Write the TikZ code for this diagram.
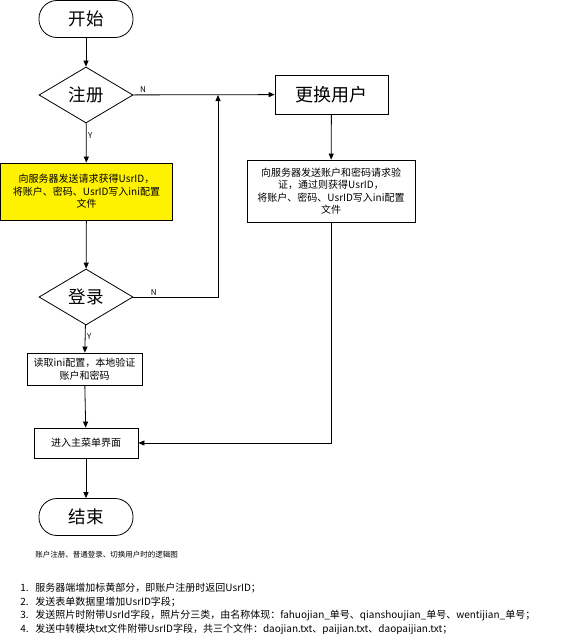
\documentclass[tikz,border=0pt]{standalone}
\usepackage{fontspec}
\setmainfont{Noto Sans CJK SC}
\usetikzlibrary{arrows.meta,shapes.geometric}

\tikzset{
  term/.style={draw, rounded corners=18pt, minimum width=94pt, minimum height=37pt,
    inner sep=0pt, font=\fontsize{17.5}{20}\selectfont},
  decision/.style={draw, diamond, aspect=1.68, minimum width=94pt, minimum height=56pt,
    inner sep=0pt, font=\fontsize{17.5}{20}\selectfont},
  bigbox/.style={draw, minimum width=113pt, minimum height=39pt,
    inner sep=0pt, font=\fontsize{18}{20}\selectfont},
  textbox/.style={draw, align=center, inner sep=0pt, font=\fontsize{10}{12.5}\selectfont},
  yn/.style={font=\fontsize{8}{9}\selectfont, inner sep=1.5pt}
}

\begin{document}
\begin{tikzpicture}[x=1pt, y=-1pt, line width=0.8pt, >={Triangle[length=6pt,width=5pt]}]
  \useasboundingbox (0,0) rectangle (567,634);
  \draw
    (86,19) node[term] (start){开始}
    (86,95) node[decision] (reg){注册}
    (86.5,191.5) node[textbox, fill=yellow, minimum width=172pt, minimum height=57pt] (regbox)
      {向服务器发送请求获得UsrID，\\将账户、密码、UsrID写入ini配置\\文件}
    (86,297) node[decision] (login){登录}
    (84.5,369) node[textbox, minimum width=115pt, minimum height=32pt] (readbox)
      {读取ini配置，本地验证\\账户和密码}
    (86,443) node[textbox, minimum width=104pt, minimum height=30pt] (menu){进入主菜单界面}
    (86,517) node[term] (end){结束}
    (331.5,94.5) node[bigbox] (switch){更换用户}
    (331,191) node[textbox, minimum width=168pt, minimum height=62pt] (switchbox)
      {向服务器发送账户和密码请求验\\证，通过则获得UsrID，\\将账户、密码、UsrID写入ini配置\\文件};
  \coordinate (join) at (218,95);

  % connectors
  \begin{scope}[->]
    \draw (start) to (reg);
    \draw (reg) to node[yn, pos=0.32, right]{Y} (regbox);
    \draw (reg) to node[yn, pos=0.07, above]{N} (switch);
    \draw (regbox) to (login);
    \draw (login) -| node[yn, pos=0.12, above]{N} (join);
    \draw (login) to node[yn, pos=0.42, right]{Y} (readbox);
    \draw (readbox) to (menu);
    \draw (menu) to (end);
    \draw (switch) to (switchbox);
    \draw (switchbox) |- (menu);
  \end{scope}

  % notes
  \node[anchor=west, inner sep=0pt, font=\fontsize{7.5}{9}\selectfont] (caption) at (35,555)
    {账户注册、普通登录、切换用户时的逻辑图};
  \node[anchor=north west, inner sep=0pt, font=\fontsize{10}{13.6}\selectfont] (notes) at (20,581.5)
    {\begin{tabular}{@{}p{15pt}@{}l@{}}
      1. & 服务器端增加标黄部分，即账户注册时返回UsrID；\\
      2. & 发送表单数据里增加UsrID字段；\\
      3. & 发送照片时附带UsrId字段，照片分三类，由名称体现：fahuojian\_单号、qianshoujian\_单号、wentijian\_单号；\\
      4. & 发送中转模块txt文件附带UsrID字段，共三个文件：daojian.txt、paijian.txt、daopaijian.txt；
    \end{tabular}};
\end{tikzpicture}
\end{document}
